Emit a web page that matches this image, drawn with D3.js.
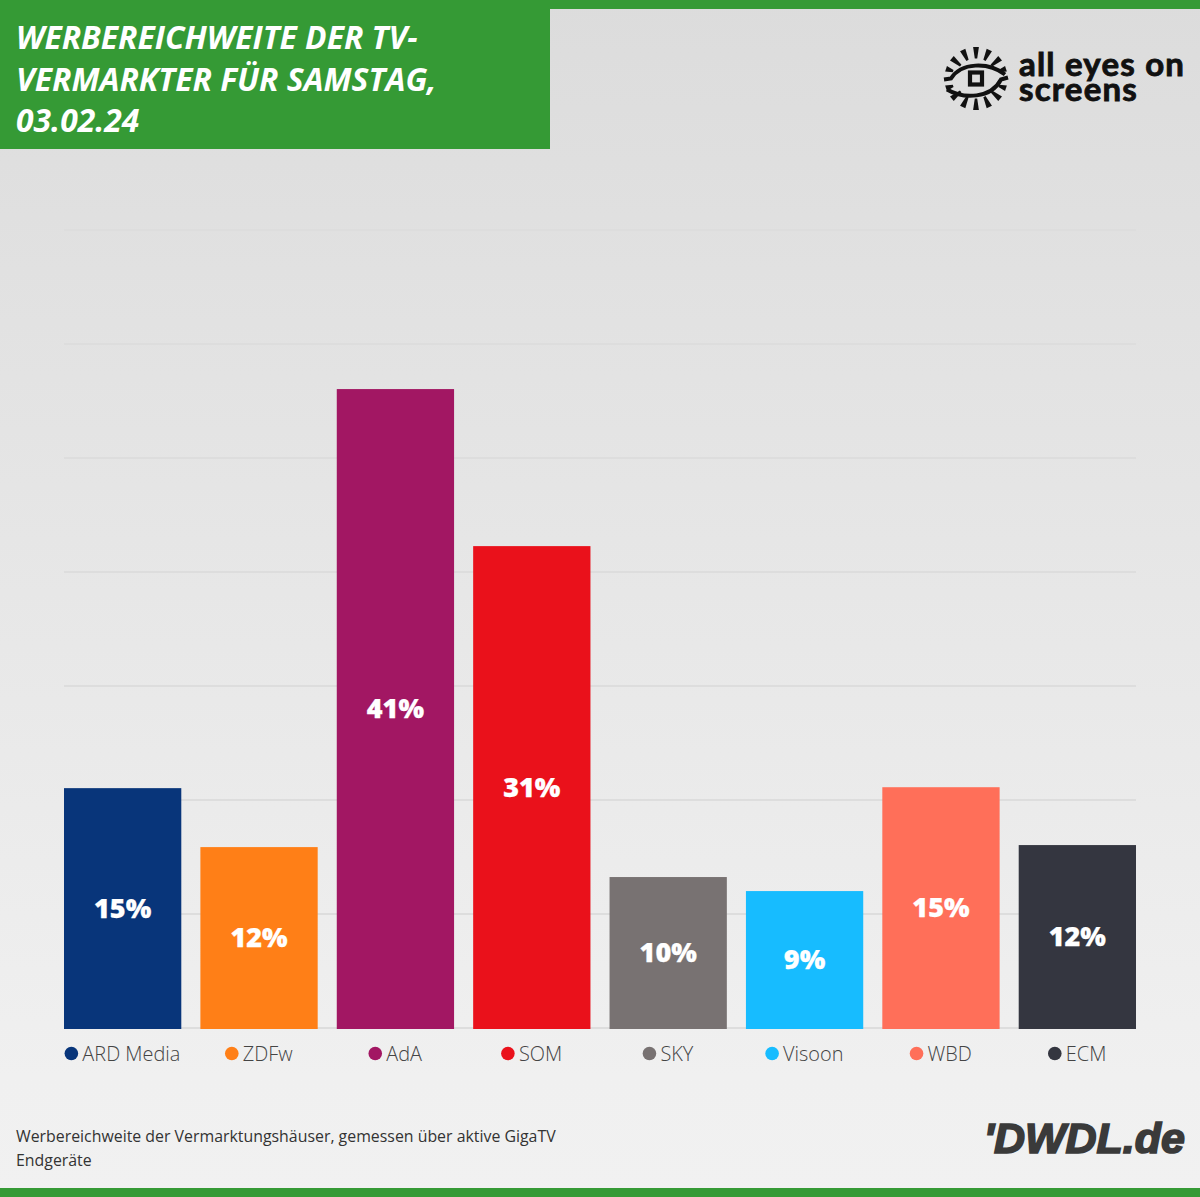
<!DOCTYPE html>
<html><head><meta charset="utf-8">
<script src="https://cdn.jsdelivr.net/npm/d3@7"></script>
<style>html,body{margin:0;padding:0;background:#f0f0f0}svg{display:block}</style>
</head><body><svg id="c" width="1200" height="1197"></svg>
<script>
const categories=["ARD Media","ZDFw","AdA","SOM","SKY","Visoon","WBD","ECM"];
const values=[15.38,11.6,40.97,30.9,9.68,8.78,15.44,11.73];
const valueLabels=["15%","12%","41%","31%","10%","9%","15%","12%"];
const colors=["#08357a","#ff7f17","#a21763","#ea111b","#787272","#17bcff","#ff6f59","#343640"];
const gridTicks=[0,7.31,14.62,21.93,29.24,36.55,43.86,51.17];
const titleLines=["WERBEREICHWEITE DER TV-","VERMARKTER FÜR SAMSTAG,","03.02.24"];
const noteLines=["Werbereichweite der Vermarktungshäuser, gemessen über aktive GigaTV","Endgeräte"];
const emblemRayAngles=[-162,-140,-115,-90,-65,-40,-18,18,40,65,90,115,140,162];

const svg=d3.select("#c");
const defs=svg.append("defs");
const g=defs.append("linearGradient").attr("id","bg").attr("x1",0).attr("x2",0).attr("y1",0).attr("y2",1);
g.append("stop").attr("offset",0).attr("stop-color","#dcdcdc");
g.append("stop").attr("offset",0.9).attr("stop-color","#f0f0f0");
g.append("stop").attr("offset",1).attr("stop-color","#f1f1f1");
svg.append("rect").attr("width",1200).attr("height",1197).attr("fill","url(#bg)");
svg.append("rect").attr("width",1200).attr("height",9).attr("fill","#359a35");
svg.append("rect").attr("y",1188).attr("width",1200).attr("height",9).attr("fill","#359a35");
svg.append("rect").attr("width",550).attr("height",149).attr("fill","#359a35");
svg.append("g").selectAll("text").data(titleLines).join("text")
  .attr("x",16).attr("y",(d,i)=>49+i*41.5)
  .attr("font-family","'Open Sans'").attr("font-weight",700).attr("font-style","italic")
  .attr("font-size",31.85).attr("fill","#fff").text(d=>d);

const x=d3.scaleBand().domain(categories).range([64,1136]).paddingInner(0.14).paddingOuter(0);
const y=d3.scaleLinear().domain([0,51.17]).range([1028,230]);
svg.append("g").selectAll("line").data(gridTicks).join("line")
  .attr("x1",64).attr("x2",1136).attr("y1",d=>y(d)).attr("y2",d=>y(d))
  .attr("stroke","#dddddd").attr("stroke-width",2);
svg.append("g").selectAll("rect").data(values).join("rect")
  .attr("x",(d,i)=>x(categories[i])).attr("width",x.bandwidth())
  .attr("y",d=>y(d)).attr("height",d=>y(0)-y(d)+1)
  .attr("fill",(d,i)=>colors[i]);
svg.append("g").selectAll("text").data(values).join("text")
  .attr("x",(d,i)=>x(categories[i])+x.bandwidth()/2)
  .attr("y",d=>(y(d)+y(0))/2+9.6)
  .attr("text-anchor","middle").attr("font-family","'Open Sans'").attr("font-weight",800)
  .attr("font-size",27).attr("fill","#fff").attr("stroke","#fff").attr("stroke-width",.25)
  .attr("stroke-linejoin","round").text((d,i)=>valueLabels[i]);

const lg=svg.append("g").selectAll("g").data(categories).join("g");
lg.each(function(d,i){
  const s=d3.select(this);
  const t=s.append("text").attr("y",1061).attr("font-family","'Open Sans'").attr("font-weight",300)
    .attr("font-size",19.9).attr("fill","#444").text(d);
  const w=t.node().getComputedTextLength();
  const cx=x(d)+x.bandwidth()/2, total=14+4+w, left=cx-total/2-0.3;
  s.append("circle").attr("cx",left+7).attr("cy",1053.5).attr("r",6.8).attr("fill",colors[i]);
  t.attr("x",left+18);
});
svg.append("g").selectAll("text").data(noteLines).join("text")
  .attr("x",16).attr("y",(d,i)=>1142+i*24)
  .attr("font-family","'Open Sans'").attr("font-size",15.88).attr("fill","#333").text(d=>d);

svg.append("text").attr("x",1185).attr("y",1153).attr("text-anchor","end")
  .attr("font-family","'Liberation Sans'").attr("font-weight",700).attr("font-style","italic")
  .attr("font-size",43).attr("letter-spacing",0).attr("stroke","#3a3a3a").attr("stroke-width",1.7)
  .attr("fill","#3a3a3a").text("'DWDL.de");

const lt=svg.append("g").attr("font-family","Lato").attr("font-weight",700).attr("fill","#111").attr("font-size",33)
  .attr("letter-spacing",1.2).attr("stroke","#111").attr("stroke-width",.9);
lt.append("text").attr("x",1019).attr("y",75.5).text("all eyes on");
lt.append("text").attr("x",1019).attr("y",100.5).text("screens");

const e=svg.append("g").attr("transform","translate(976,78.5)");
const ray=a=>{
  const r=a*Math.PI/180, side=Math.abs(Math.sin(r))<0.5;
  const r0=side?24:20, r1=31.5, w0=1.2, w1=2.9;
  const c=Math.cos(r), n=Math.sin(r);
  const pt=(R,W)=>[R*c-W*n, R*n+W*c];
  return [pt(r0,w0),pt(r1,w1),pt(r1,-w1),pt(r0,-w0)].map(p=>p.join(",")).join(" ");
};
e.selectAll("polygon").data(emblemRayAngles).join("polygon").attr("points",ray).attr("fill","#111");
e.append("path").attr("d","M-32,1 L-25,0 C-15,-16 12,-17 29,-4").attr("fill","none").attr("stroke","#111").attr("stroke-width",4);
e.append("path").attr("d","M32,-1 L25,1 C15,20 -12,21 -29,11").attr("fill","none").attr("stroke","#111").attr("stroke-width",4);
e.append("rect").attr("x",-6).attr("y",-6).attr("width",12).attr("height",12).attr("fill","none").attr("stroke","#111").attr("stroke-width",4.2);
</script></body></html>
